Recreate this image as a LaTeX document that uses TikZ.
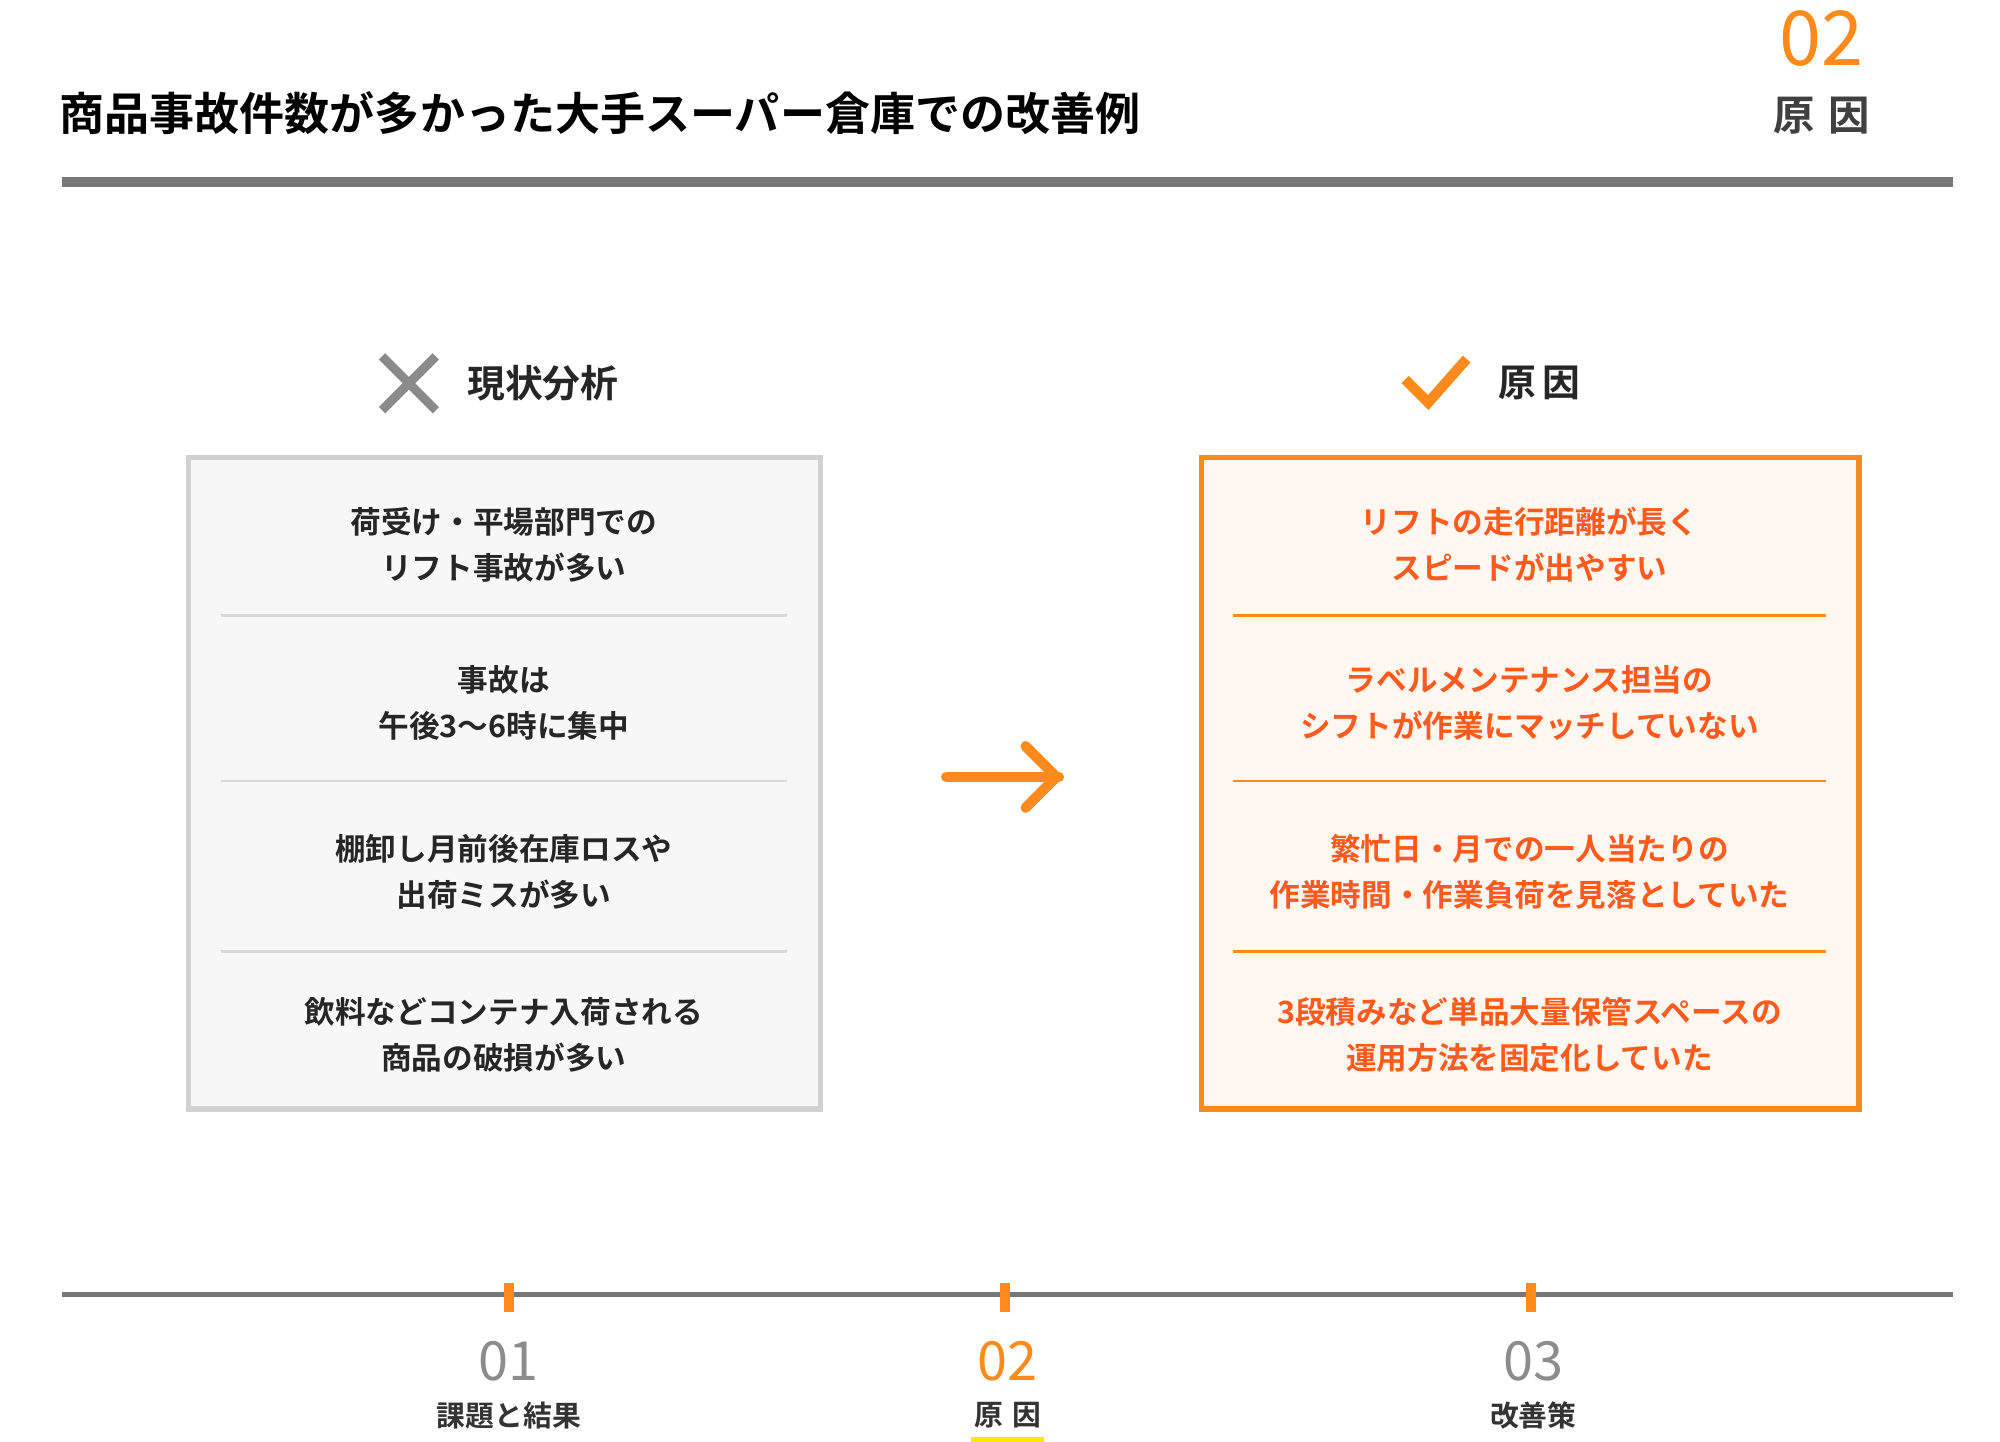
\documentclass[tikz,border=0pt]{standalone}
\usepackage{fontspec}
\setmainfont{Noto Sans CJK JP}[BoldFont={* Bold}]
\usetikzlibrary{arrows.meta}
\definecolor{org}{HTML}{FF8A1C}
\definecolor{ored}{HTML}{FF5A1E}
\definecolor{gbar}{HTML}{777777}
\begin{document}
\begin{tikzpicture}[x=0.05cm,y=-0.05cm,
 txt/.style={font=\fontsize{34pt}{51pt}\selectfont\bfseries,align=center,text=black!85},
 otxt/.style={txt,text=ored},
 hd/.style={font=\fontsize{42pt}{50pt}\selectfont\bfseries,text=black!85},
 num/.style={font=\fontsize{60pt}{64pt}\selectfont,text=black!45},
 lbl/.style={font=\fontsize{32pt}{38pt}\selectfont\bfseries,text=black!80}]
\useasboundingbox[fill=white] (0,0) rectangle (1560,1124);
\node[anchor=west,font=\fontsize{50pt}{56pt}\selectfont\bfseries] (title) at (44,88) {商品事故件数が多かった大手スーパー倉庫での改善例};
\node[font=\fontsize{84pt}{90pt}\selectfont,text=org] (n02) at (1421,30) {02};
\node[font=\fontsize{46pt}{50pt}\selectfont\bfseries,text=black!75] (t02) at (1421,90) {原\,\,因};
\fill[gbar] (48,138) rectangle (1523,146);
% headers
\draw[gbar!85,line width=0.35cm] (298,278) -- (340,320) (340,278) -- (298,320);
\node[hd,anchor=west] (h1) at (362,299) {現状分析};
\draw[org,line width=0.4cm] (1096,296) -- (1114,314) -- (1144,280);
\node[hd,anchor=west] (h2) at (1166,299) {原\,因};
% boxes
\draw[line width=0.2cm,draw=black!18,fill=black!3] (147,357) rectangle (640,865);
\draw[line width=0.2cm,draw=org,fill=orange!6] (937,357) rectangle (1450,865);
\foreach \y in {480,609,742}{
 \draw[black!15,line width=0.1cm] (172,\y) -- (614,\y);
 \draw[org,line width=0.1cm] (962,\y) -- (1424,\y);}
\node[txt] (l1) at (393,425) {荷受け・平場部門での\\リフト事故が多い};
\node[txt] (l2) at (393,548) {事故は\\午後3〜6時に集中};
\node[txt] (l3) at (393,680) {棚卸し月前後在庫ロスや\\出荷ミスが多い};
\node[txt] (l4) at (393,807) {飲料などコンテナ入荷される\\商品の破損が多い};
\node[otxt] (r1) at (1193,425) {リフトの走行距離が長く\\スピードが出やすい};
\node[otxt] (r2) at (1193,548) {ラベルメンテナンス担当の\\シフトが作業にマッチしていない};
\node[otxt] (r3) at (1193,680) {繁忙日・月での一人当たりの\\作業時間・作業負荷を見落としていた};
\node[otxt] (r4) at (1193,807) {3段積みなど単品大量保管スペースの\\運用方法を固定化していた};
\coordinate (a1) at (738,606); \coordinate (a2) at (826,606);
\draw[org,line width=0.4cm,line cap=round] (a1) -- (a2);
\draw[org,line width=0.4cm,line cap=round,line join=round] (800,582) -- (824,606) -- (800,630);
% timeline
\fill[gbar] (48,1008) rectangle (1523,1012);
\foreach \x in {397,784,1194}{\fill[org] (\x-4,1001) rectangle (\x+4,1023);}
\node[num] (b1) at (397,1062) {01};
\node[lbl] (c1) at (397,1104) {課題と結果};
\node[num,text=org] (b2) at (786,1062) {02};
\node[lbl] (c2) at (786,1104) {原\,\,因};
\node[num] (b3) at (1196,1062) {03};
\node[lbl] (c3) at (1196,1104) {改善策};
\fill[yellow!90!orange] (757,1121) rectangle (814,1129);
\end{tikzpicture}
\end{document}
